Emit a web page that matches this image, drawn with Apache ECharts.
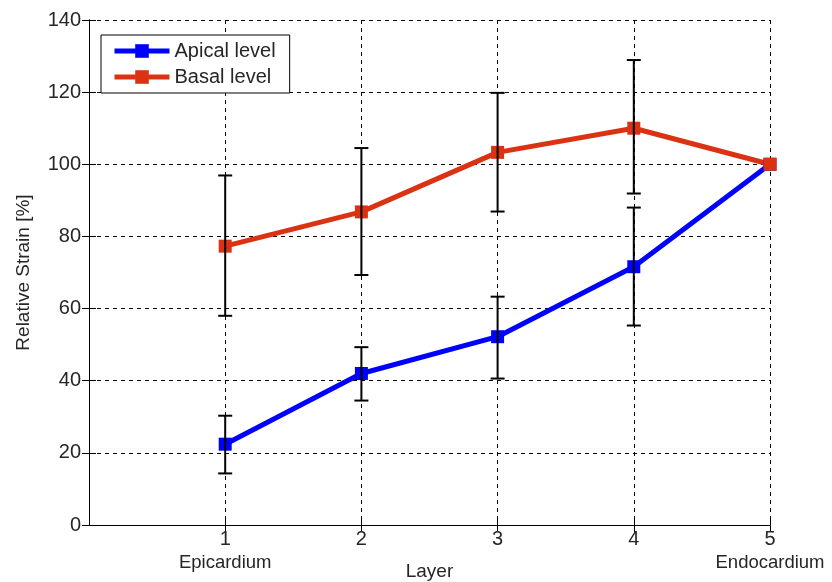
<!DOCTYPE html>
<html>
<head>
<meta charset="utf-8">
<script src="https://cdn.jsdelivr.net/npm/echarts@6/dist/echarts.min.js"></script>
<style>
  html, body { margin: 0; padding: 0; background: #ffffff; }
  #chart { width: 832px; height: 582px; }
</style>
</head>
<body>
<div id="chart"></div>
<script>
// Layer positions across the myocardial wall
const layers = [1, 2, 3, 4, 5];
const layerNames = { 1: 'Epicardium', 5: 'Endocardium' };

// Apical level: mean relative strain and error-bar limits [%]
const apicalMean = [22.4, 42.0, 52.2, 71.6, 100];
const apicalLow  = [14.3, 34.5, 40.6, 55.3, null];
const apicalHigh = [30.3, 49.3, 63.3, 88.0, null];

// Basal level: mean relative strain and error-bar limits [%]
const basalMean = [77.3, 86.8, 103.3, 110.0, 100];
const basalLow  = [58.0, 69.3, 86.9, 91.9, null];
const basalHigh = [96.9, 104.5, 119.8, 128.9, null];

const yTicks = [0, 20, 40, 60, 80, 100, 120, 140];

const FONT = '"Liberation Sans", Arial, sans-serif';
const TEXT = '#262626';
const BLUE = '#0000ff';
const RED = '#dc3214';

function pairs(xs, ys) {
  return xs.map((x, i) => [x, ys[i]]);
}
function errRows(xs, lo, hi) {
  const rows = [];
  xs.forEach((x, i) => {
    if (lo[i] != null && hi[i] != null) rows.push([x, lo[i], hi[i]]);
  });
  return rows;
}

// Vertical error bar with horizontal caps
function renderErrorBar(params, api) {
  const x = api.value(0);
  const top = api.coord([x, api.value(2)]);
  const bot = api.coord([x, api.value(1)]);
  const half = 7;
  const style = { stroke: '#000000', lineWidth: 2 };
  return {
    type: 'group',
    children: [
      { type: 'line', shape: { x1: top[0], y1: top[1], x2: bot[0], y2: bot[1] }, style },
      { type: 'line', shape: { x1: top[0] - half, y1: top[1], x2: top[0] + half, y2: top[1] }, style },
      { type: 'line', shape: { x1: bot[0] - half, y1: bot[1], x2: bot[0] + half, y2: bot[1] }, style }
    ]
  };
}

const gridLine = { show: true, lineStyle: { color: '#000000', width: 1, type: [4, 4] } };
const frameLine = { show: true, lineStyle: { color: '#000000', width: 1 } };
const innerTick = { show: true, inside: true, length: 7, lineStyle: { color: '#000000', width: 1 } };
const layerTick = Object.assign({}, innerTick, { customValues: layers });

const chart = echarts.init(document.getElementById('chart'), null, { renderer: 'canvas' });

chart.setOption({
  animation: false,
  backgroundColor: '#ffffff',
  textStyle: { fontFamily: FONT, color: TEXT },
  grid: { left: 89, right: 62, top: 20, bottom: 57, containLabel: false, outerBoundsMode: 'none' },
  legend: {
    orient: 'vertical',
    left: 101,
    top: 35,
    padding: [6, 14, 6, 11],
    itemGap: 6,
    itemWidth: 55,
    itemHeight: 17,
    backgroundColor: '#ffffff',
    borderColor: '#000000',
    borderWidth: 1,
    borderRadius: 0,
    lineStyle: { width: 5 },
    textStyle: { fontFamily: FONT, fontSize: 20, color: TEXT },
    data: ['Apical level', 'Basal level']
  },
  xAxis: [
    {
      type: 'value',
      min: 0,
      max: 5,
      interval: 1,
      name: 'Layer',
      nameLocation: 'middle',
      nameGap: 37,
      nameMoveOverlap: false,
      nameTextStyle: { fontFamily: FONT, fontSize: 19, color: TEXT },
      axisLine: frameLine,
      axisTick: layerTick,
      splitLine: gridLine,
      axisLabel: {
        margin: 3,
        color: TEXT,
        fontFamily: FONT,
        fontSize: 20,
        lineHeight: 22,
        formatter: function (v) {
          if (v === 0) return '';
          return layerNames[v] ? v + '\n{sub|' + layerNames[v] + '}' : String(v);
        },
        rich: { sub: { fontFamily: FONT, fontSize: 18.5, color: TEXT, lineHeight: 25 } }
      }
    },
    {
      type: 'value',
      position: 'top',
      min: 0,
      max: 5,
      interval: 1,
      axisLine: frameLine,
      axisTick: layerTick,
      axisLabel: { show: false },
      splitLine: { show: false }
    }
  ],
  yAxis: [
    {
      type: 'value',
      min: yTicks[0],
      max: yTicks[yTicks.length - 1],
      interval: yTicks[1] - yTicks[0],
      name: 'Relative Strain [%]',
      nameLocation: 'middle',
      nameGap: 56,
      nameMoveOverlap: false,
      nameTextStyle: { fontFamily: FONT, fontSize: 19, color: TEXT },
      axisLine: frameLine,
      axisTick: innerTick,
      splitLine: gridLine,
      axisLabel: { margin: 8, color: TEXT, fontFamily: FONT, fontSize: 20 }
    },
    {
      type: 'value',
      position: 'right',
      min: yTicks[0],
      max: yTicks[yTicks.length - 1],
      interval: yTicks[1] - yTicks[0],
      axisLine: frameLine,
      axisTick: innerTick,
      axisLabel: { show: false },
      splitLine: { show: false }
    }
  ],
  series: [
    {
      name: 'Apical level',
      type: 'line',
      data: pairs(layers, apicalMean),
      symbol: 'rect',
      symbolSize: 13,
      lineStyle: { color: BLUE, width: 5 },
      itemStyle: { color: BLUE },
      z: 3
    },
    {
      name: 'Basal level',
      type: 'line',
      data: pairs(layers, basalMean),
      symbol: 'rect',
      symbolSize: 13,
      lineStyle: { color: RED, width: 5 },
      itemStyle: { color: RED },
      z: 3
    },
    {
      type: 'custom',
      name: 'Apical error',
      data: errRows(layers, apicalLow, apicalHigh),
      renderItem: renderErrorBar,
      z: 4
    },
    {
      type: 'custom',
      name: 'Basal error',
      data: errRows(layers, basalLow, basalHigh),
      renderItem: renderErrorBar,
      z: 4
    }
  ]
});
</script>
</body>
</html>
